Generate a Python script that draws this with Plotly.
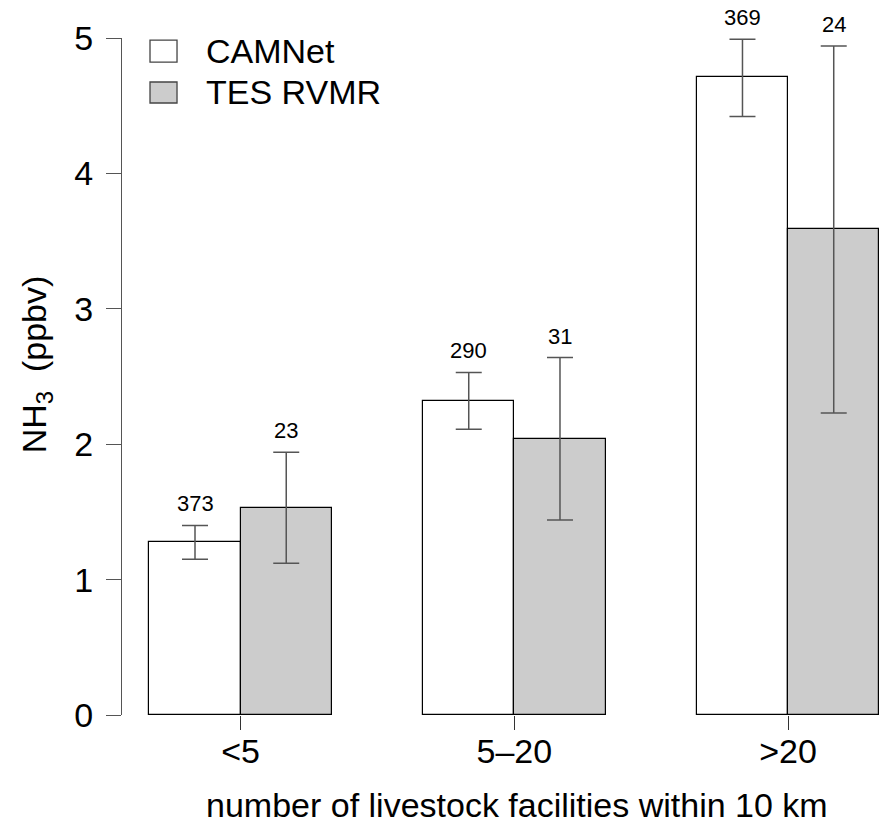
import plotly.graph_objects as go

groups = ["<5", "5\u201320", ">20"]
series = ["CAMNet", "TES RVMR"]
series_colors = ["white", "#cccccc"]
camnet_mean = [1.28, 2.32, 4.71]
camnet_hi = [1.40, 2.53, 4.99]
camnet_lo = [1.15, 2.11, 4.42]
camnet_n = [373, 290, 369]
tes_mean = [1.53, 2.04, 3.59]
tes_hi = [1.94, 2.64, 4.94]
tes_lo = [1.12, 1.44, 2.23]
tes_n = [23, 31, 24]
y_ticks = [0, 1, 2, 3, 4, 5]

# bar layout like R barplot(beside=TRUE): groups at 1-3, 4-6, 7-9
group_centers = [2, 5, 8]
cam_x = [c - 0.5 for c in group_centers]
tes_x = [c + 0.5 for c in group_centers]

FONT = "Liberation Sans, Arial, Helvetica, sans-serif"
ERR_COLOR = "#555555"

def err(mean, hi, lo):
    return dict(type="data", symmetric=False,
                array=[h - m for h, m in zip(hi, mean)],
                arrayminus=[m - l for m, l in zip(mean, lo)],
                color=ERR_COLOR, thickness=1.5, width=13)

fig = go.Figure()
fig.add_trace(go.Bar(x=cam_x, y=camnet_mean, width=1, name=series[0],
                     marker=dict(color=series_colors[0], line=dict(color="black", width=1.2)),
                     error_y=err(camnet_mean, camnet_hi, camnet_lo), showlegend=False))
fig.add_trace(go.Bar(x=tes_x, y=tes_mean, width=1, name=series[1],
                     marker=dict(color=series_colors[1], line=dict(color="black", width=1.2)),
                     error_y=err(tes_mean, tes_hi, tes_lo), showlegend=False))

annotations = []
for xs, hi, ns in [(cam_x, camnet_hi, camnet_n), (tes_x, tes_hi, tes_n)]:
    for x, h, n in zip(xs, hi, ns):
        annotations.append(dict(x=x, y=h, xref="x", yref="y", text=str(n),
                                showarrow=False, yanchor="bottom", yshift=7,
                                font=dict(size=22, color="black", family=FONT)))
annotations.append(dict(x=0.519, y=0, xref="paper", yref="paper", yanchor="middle",
                        yshift=-90, text="number of livestock facilities within 10 km",
                        showarrow=False, font=dict(size=34, color="black", family=FONT)))
annotations.append(dict(x=-0.113, y=0.518, xref="paper", yref="paper",
                        xanchor="center", yanchor="middle", textangle=-90,
                        text="NH<sub>3</sub>  (ppbv)", showarrow=False,
                        font=dict(size=34, color="black", family=FONT)))

# custom legend (boxes + labels) in paper coordinates
shapes = []
legend_rows = [(0.9645, 0.997, 0.981), (0.904, 0.935, 0.920)]
for name, col, (y0, y1, yc) in zip(series, series_colors, legend_rows):
    shapes.append(dict(type="rect", xref="paper", yref="paper",
                       x0=0.0368, x1=0.0723, y0=y0, y1=y1,
                       fillcolor=col, line=dict(color="#444444", width=1.3)))
    annotations.append(dict(x=0.108, y=yc, xref="paper", yref="paper", text=name,
                            showarrow=False, xanchor="left", yanchor="middle",
                            font=dict(size=34, color="black", family=FONT)))

fig.update_layout(
    width=883, height=825,
    margin=dict(l=122, r=0, t=38, b=110),
    paper_bgcolor="white", plot_bgcolor="white",
    font=dict(family=FONT, color="black"),
    bargap=0, showlegend=False,
    annotations=annotations, shapes=shapes,
)
fig.update_xaxes(range=[0.70, 9.04], tickmode="array", tickvals=group_centers,
                 ticktext=groups, ticks="outside", ticklen=14, tickwidth=1.2,
                 tickcolor="#333333", showline=False, showgrid=False, zeroline=False,
                 ticklabelstandoff=-8,
                 tickfont=dict(size=34, family=FONT, color="black"))
fig.update_yaxes(range=[0, 5], tickmode="array", tickvals=y_ticks,
                 ticks="outside", ticklen=15, tickwidth=1.2, tickcolor="#555555",
                 showline=True, linecolor="#555555", linewidth=1.2,
                 showgrid=False, zeroline=False, ticklabelstandoff=6,
                 tickfont=dict(size=34, family=FONT, color="black"))

fig.write_html("out.html")
